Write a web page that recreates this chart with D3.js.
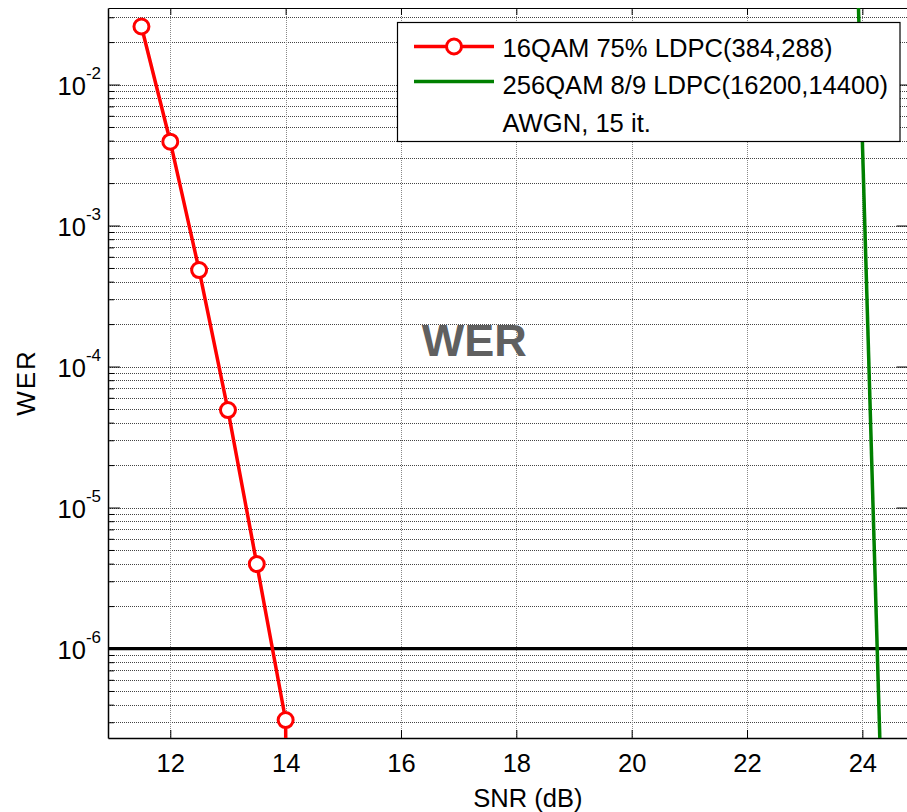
<!DOCTYPE html>
<meta charset="utf-8">
<style>
  body { margin: 0; background: #fff; }
  text { font-family: 'Liberation Sans', Arial, sans-serif; }
</style>
<body>
<div id="my_dataviz"></div>
<script src="https://d3js.org/d3.v7.min.js"></script>
<script>

    // data
    var snr16 = [11.5, 12, 12.5, 13, 13.5, 14, 14.02];
    var wer16 = [0.0258, 3.93e-3, 4.83e-4, 4.91e-5, 3.97e-6, 3.11e-7, 1e-8];
    var snr256 = [23.9, 24.4];
    var wer256 = [0.1, 1e-8];
    var xTicks = [12, 14, 16, 18, 20, 22, 24];
    var yDecades = [-2, -3, -4, -5, -6];
    var targetWer = 1e-6;
    var legendLabels = ["16QAM 75% LDPC(384,288)", "256QAM 8/9 LDPC(16200,14400)", "AWGN, 15 it."];

    // set the dimensions and margins of the graph
    var margin = {top: 8, right: 0, bottom: 74, left: 108},
        width = 800.5,
        height = 730;

    var svg = d3.select("#my_dataviz")
      .append("svg")
        .attr("width", 907)
        .attr("height", 812)
      .append("g")
        .attr("transform", "translate(" + margin.left + "," + margin.top + ")");

    var x = d3.scaleLinear().domain([10.92, 24.8]).range([0, width]);
    var y = d3.scaleLog().domain([2.32e-7, 0.0349]).range([height, 0]);

    // all log ticks (major + minor) inside the domain
    var majors = [], minors = [];
    for (var e = -7; e <= -1; e++) {
      for (var m = 1; m <= 9; m++) {
        var v = m * Math.pow(10, e);
        if (v < y.domain()[0] || v > y.domain()[1]) continue;
        if (m == 1) majors.push(v); else minors.push(v);
      }
    }

    svg.append("defs").append("clipPath").attr("id", "clip")
      .append("rect").attr("width", width).attr("height", height);

    // grid
    var grid = svg.append("g").attr("stroke", "#444").attr("stroke-width", 1)
      .attr("stroke-dasharray", "1,1");
    grid.selectAll("line.gy").data(majors.concat(minors)).enter().append("line")
      .attr("x1", 0).attr("x2", width)
      .attr("y1", function(d) { return Math.round(y(d)) + 0.5; })
      .attr("y2", function(d) { return Math.round(y(d)) + 0.5; });
    grid.selectAll("line.gx").data(xTicks).enter().append("line")
      .attr("stroke", "#888")
      .attr("y1", 0).attr("y2", height)
      .attr("x1", function(d) { return Math.round(x(d)) + 0.5; })
      .attr("x2", function(d) { return Math.round(x(d)) + 0.5; });

    // axes, ticks pointing inward
    svg.append("g")
      .attr("transform", "translate(0," + height + ")")
      .call(d3.axisBottom(x).tickValues(xTicks).tickSize(-8).tickPadding(16).tickSizeOuter(0))
      .call(function(g) {
        g.select(".domain").attr("stroke-width", 1.5);
        g.selectAll("text").attr("font-size", 25.5).attr("font-family", "Liberation Sans");
      });
    svg.append("g")
      .call(d3.axisTop(x).tickValues(xTicks).tickSize(-7).tickFormat("").tickSizeOuter(0))
      .call(function(g) { g.select(".domain").attr("stroke-width", 1.2); });

    svg.append("g")
      .call(d3.axisLeft(y).tickValues(majors).tickSize(-12).tickFormat("").tickSizeOuter(0))
      .call(function(g) { g.select(".domain").attr("stroke-width", 1.5); });
    svg.append("g")
      .call(d3.axisLeft(y).tickValues(minors).tickSize(-6).tickFormat("").tickSizeOuter(0))
      .select(".domain").remove();
    svg.append("g")
      .attr("transform", "translate(" + width + ",0)")
      .call(d3.axisRight(y).tickValues(minors).tickSize(-6).tickFormat("").tickSizeOuter(0))
      .call(d3.axisRight(y).tickValues(majors).tickSize(-12).tickFormat("").tickSizeOuter(0));

    // y tick labels 10^n
    var yl = svg.selectAll("text.ylab").data(yDecades).enter().append("text")
      .attr("text-anchor", "end")
      .attr("x", -7)
      .attr("y", function(d) { return y(Math.pow(10, d)) + 10.5; })
      .attr("font-size", 25.5);
    yl.append("tspan").text("10");
    yl.append("tspan").attr("dy", -16).attr("font-size", 17).text(function(d) { return "-" + (-d); });

    // axis titles
    svg.append("text").attr("x", x(18.2)).attr("y", height + 69)
      .attr("text-anchor", "middle").attr("font-size", 25.5).text("SNR (dB)");
    svg.append("text")
      .attr("transform", "translate(" + (35 - margin.left) + "," + (y(1e-4) + 16) + ") rotate(-90)")
      .attr("text-anchor", "middle").attr("font-size", 26).attr("letter-spacing", 2).text("WER");

    var plot = svg.append("g").attr("clip-path", "url(#clip)");

    // target line
    plot.append("line")
      .attr("x1", 0).attr("x2", width)
      .attr("y1", y(targetWer)).attr("y2", y(targetWer))
      .attr("stroke", "#000").attr("stroke-width", 3.3);

    var line = d3.line()
      .x(function(d) { return x(d[0]); })
      .y(function(d) { return y(d[1]); });

    var red = d3.zip(snr16, wer16);
    var green = d3.zip(snr256, wer256);

    plot.append("path").datum(green)
      .attr("d", line).attr("fill", "none")
      .attr("stroke", "#008000").attr("stroke-width", 3.5);

    plot.append("path").datum(red)
      .attr("d", line).attr("fill", "none")
      .attr("stroke", "#ff0000").attr("stroke-width", 3.5);
    plot.selectAll("circle.m").data(red.slice(0, 6)).enter().append("circle")
      .attr("cx", function(d) { return x(d[0]); })
      .attr("cy", function(d) { return y(d[1]); })
      .attr("r", 7.5)
      .attr("fill", "#fff").attr("stroke", "#ff0000").attr("stroke-width", 3);

    // big label in the middle
    svg.append("text").attr("x", x(17.27)).attr("y", y(1e-4) - 11)
      .attr("text-anchor", "middle").attr("font-size", 45).attr("font-weight", "bold")
      .attr("fill", "#606060").text("WER");

    // legend
    var lg = svg.append("g").attr("transform", "translate(" + (397.5 - margin.left) + "," + (22.5 - margin.top) + ")");
    lg.append("rect").attr("width", 502.5).attr("height", 119)
      .attr("fill", "#fff").attr("stroke", "#000").attr("stroke-width", 1.2);
    lg.append("line").attr("x1", 16.5).attr("x2", 96.5).attr("y1", 24).attr("y2", 24)
      .attr("stroke", "#ff0000").attr("stroke-width", 3.5);
    lg.append("circle").attr("cx", 56.5).attr("cy", 24).attr("r", 7.5)
      .attr("fill", "#fff").attr("stroke", "#ff0000").attr("stroke-width", 3);
    lg.append("line").attr("x1", 16.5).attr("x2", 96.5).attr("y1", 59).attr("y2", 59)
      .attr("stroke", "#008000").attr("stroke-width", 3.5);
    lg.selectAll("text").data(legendLabels).enter().append("text")
      .attr("x", 105)
      .attr("y", function(d, i) { return 34 + i * 37.5; })
      .attr("font-size", 25.6)
      .text(function(d) { return d; });

</script>
</body>
